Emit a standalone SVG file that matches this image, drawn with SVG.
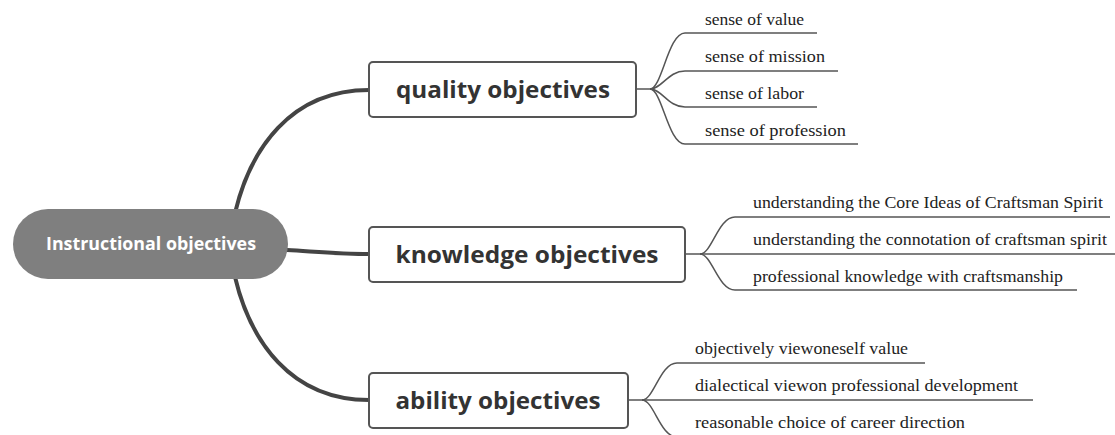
<svg xmlns="http://www.w3.org/2000/svg" width="1115" height="435" viewBox="0 0 1115 435">
<style>
.main{fill:none;stroke:#444;stroke-width:4;stroke-linecap:round}
.sub{fill:none;stroke:#555;stroke-width:1.5}
.box{fill:#fff;stroke:#555;stroke-width:2}
.bt{font-family:"Open Sans","Noto Sans",sans-serif;font-weight:bold;font-size:23px;fill:#333;text-anchor:middle}
.ct{font-family:"Open Sans","Noto Sans",sans-serif;font-weight:bold;font-size:17px;fill:#fff;text-anchor:middle}
.lt{font-family:"Liberation Serif","Times New Roman",serif;font-size:16.5px;fill:#222}
</style>
<rect width="1115" height="435" fill="#fff"/>
<g id="connectors">
<path class="main" d="M235,213 C250,150 290,90 369,90"/>
<path class="main" d="M287,250 C320,252 340,254 369,254"/>
<path class="main" d="M235,277 C250,340 290,400 369,400"/>
<path class="sub" d="M636,89 L650,89 C662,89 668,33 685,33 L817,33"/>
<path class="sub" d="M650,89 C662,89 668,71 685,71 L838,71"/>
<path class="sub" d="M650,89 C662,89 668,107 685,107 L817,107"/>
<path class="sub" d="M650,89 C662,89 668,144 685,144 L858,144"/>
<path class="sub" d="M685,254 L700,254 C712,254 718,217 735,217 L1110,217"/>
<path class="sub" d="M700,254 L1115,254"/>
<path class="sub" d="M700,254 C712,254 718,290 735,290 L1077,290"/>
<path class="sub" d="M628,400 L642,400 C654,400 660,363 677,363 L925,363"/>
<path class="sub" d="M642,400 L1033,400"/>
<path class="sub" d="M642,400 C654,400 660,437 677,437 L980,437"/>
</g>
<g id="central">
<rect x="13" y="209" width="275" height="70" rx="35" fill="#7f7f7f"/>
<text class="ct" x="151" y="250" textLength="210" lengthAdjust="spacingAndGlyphs">Instructional objectives</text>
</g>
<g id="quality">
<rect class="box" x="369" y="62" width="267" height="55" rx="4"/>
<text class="bt" x="503" y="98" textLength="214" lengthAdjust="spacingAndGlyphs">quality objectives</text>
</g>
<g id="knowledge">
<rect class="box" x="369" y="227" width="316" height="55" rx="4"/>
<text class="bt" x="527" y="263" textLength="263" lengthAdjust="spacingAndGlyphs">knowledge objectives</text>
</g>
<g id="ability">
<rect class="box" x="369" y="373" width="259" height="55" rx="4"/>
<text class="bt" x="498" y="409" textLength="205" lengthAdjust="spacingAndGlyphs">ability objectives</text>
</g>
<g id="q1"><text class="lt" x="705" y="25" textLength="99" lengthAdjust="spacingAndGlyphs">sense of value</text></g>
<g id="q2"><text class="lt" x="705" y="62" textLength="120" lengthAdjust="spacingAndGlyphs">sense of mission</text></g>
<g id="q3"><text class="lt" x="705" y="99" textLength="99" lengthAdjust="spacingAndGlyphs">sense of labor</text></g>
<g id="q4"><text class="lt" x="705" y="136" textLength="141" lengthAdjust="spacingAndGlyphs">sense of profession</text></g>
<g id="k1"><text class="lt" x="753" y="208" textLength="350" lengthAdjust="spacingAndGlyphs">understanding the Core Ideas of Craftsman Spirit</text></g>
<g id="k2"><text class="lt" x="753" y="245" textLength="354" lengthAdjust="spacingAndGlyphs">understanding the connotation of craftsman spirit</text></g>
<g id="k3"><text class="lt" x="753" y="282" textLength="310" lengthAdjust="spacingAndGlyphs">professional knowledge with craftsmanship</text></g>
<g id="a1"><text class="lt" x="695" y="354" textLength="213" lengthAdjust="spacingAndGlyphs">objectively viewoneself value</text></g>
<g id="a2"><text class="lt" x="695" y="391" textLength="323" lengthAdjust="spacingAndGlyphs">dialectical viewon professional development</text></g>
<g id="a3"><text class="lt" x="695" y="428" textLength="270" lengthAdjust="spacingAndGlyphs">reasonable choice of career direction</text></g>
</svg>
